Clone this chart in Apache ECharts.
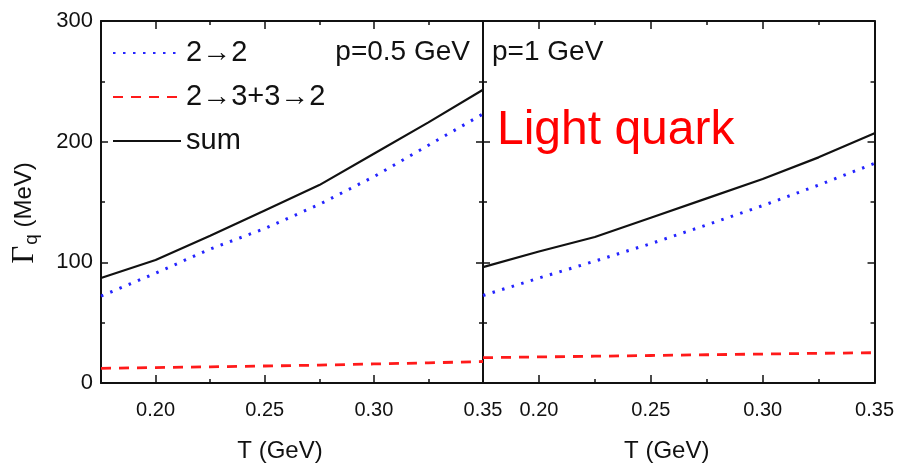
<!DOCTYPE html>
<html>
<head>
<meta charset="utf-8">
<script src="https://cdn.jsdelivr.net/npm/echarts@6/dist/echarts.min.js"></script>
<style>
html,body{margin:0;padding:0;background:#fff;}
#chart{width:897px;height:475px;}
</style>
</head>
<body>
<div id="chart"></div>
<script>
// Temperatures (GeV)
const temps = [0.175, 0.20, 0.225, 0.25, 0.275, 0.30, 0.325, 0.35];
// p = 0.5 GeV panel (MeV)
const left22 = [72, 91, 111, 128, 148, 171, 197, 223];
const left23 = [12.2, 12.8, 13.4, 14.1, 14.8, 15.8, 16.7, 17.8];
const leftSum = [87, 102, 122, 143, 164, 190, 216, 243];
// p = 1 GeV panel (MeV)
const right22 = [72.5, 87, 101, 115.5, 131, 147, 164, 182];
const right23 = [21, 21.6, 22.2, 22.8, 23.4, 24, 24.6, 25.1];
const rightSum = [96, 109, 121, 137, 153, 169, 187, 207];
// names / texts
const seriesNames = ['2→2', '2→3+3→2', 'sum'];
const yTicks = [0, 100, 200, 300];

function pairs(xs, ys) { return xs.map((x, i) => [x, ys[i]]); }

const FONT = 'Liberation Sans, Arial, sans-serif';
const INK = '#111';
const styles = [
  { color: '#2424ff', width: 3, type: [2.5, 7.5], cap: 'butt' },
  { color: '#ff1a1a', width: 2.8, type: [10, 8], cap: 'butt' },
  { color: '#111111', width: 2.2, type: 'solid', cap: 'butt' }
];

function xAx(grid, pos, labels) {
  return {
    type: 'value', gridIndex: grid, position: pos, min: 0.175, max: 0.35, splitNumber: 4,
    axisLine: { show: true, onZero: false, lineStyle: { color: INK, width: 2 } },
    axisTick: { show: true, inside: true, length: 8, lineStyle: { color: INK, width: 1.5 } },
    minorTick: { show: true, splitNumber: 2, length: 4, lineStyle: { color: INK, width: 1.5 } },
    splitLine: { show: false }, minorSplitLine: { show: false },
    axisLabel: {
      show: labels, showMinLabel: false, margin: 17, fontSize: 20, fontFamily: FONT, color: INK,
      formatter: v => v.toFixed(2)
    },
    name: labels ? 'T (GeV)' : '', nameLocation: 'middle', nameGap: 56,
    nameTextStyle: { fontSize: 24, fontFamily: FONT, color: INK, padding: [0, 24, 0, 0] }
  };
}
function yAx(grid, pos, labels) {
  return {
    type: 'value', gridIndex: grid, position: pos, min: yTicks[0], max: yTicks[yTicks.length - 1],
    interval: yTicks[1] - yTicks[0],
    axisLine: { show: true, onZero: false, lineStyle: { color: INK, width: 2 } },
    axisTick: { show: true, inside: true, length: 7, lineStyle: { color: INK, width: 1.5 } },
    minorTick: { show: true, splitNumber: 2, length: 4, lineStyle: { color: INK, width: 1.5 } },
    splitLine: { show: false }, minorSplitLine: { show: false },
    axisLabel: { show: labels, margin: 8, fontSize: 22, fontFamily: FONT, color: INK },
    name: labels ? '{g|Γ}{q|q}{u| (MeV)}' : '', nameLocation: 'middle', nameGap: 60, nameRotate: 90,
    nameTextStyle: {
      color: INK, padding: [0, 22, 0, 0],
      rich: {
        g: { fontSize: 31, fontFamily: 'Liberation Serif, serif', color: INK },
        q: { fontSize: 19, fontFamily: FONT, color: INK, padding: [14, 0, 0, 1] },
        u: { fontSize: 24, fontFamily: FONT, color: INK }
      }
    }
  };
}

function mkSeries(name, xi, yi, data, st) {
  return {
    name: name, type: 'line', xAxisIndex: xi, yAxisIndex: yi, data: data,
    symbol: 'none', showSymbol: false, smooth: false, z: 3,
    lineStyle: { color: st.color, width: st.width, type: st.type, cap: st.cap },
    itemStyle: { color: st.color }
  };
}

const chart = echarts.init(document.getElementById('chart'), null, { renderer: 'canvas' });
chart.setOption({
  animation: false,
  backgroundColor: '#fff',
  grid: [
    { left: 101, top: 21, width: 382, height: 362 },
    { left: 483, top: 21, width: 392, height: 362 }
  ],
  xAxis: [xAx(0, 'bottom', true), xAx(1, 'bottom', true), xAx(0, 'top', false), xAx(1, 'top', false)],
  yAxis: [yAx(0, 'left', true), yAx(1, 'left', false), yAx(0, 'right', false), yAx(1, 'right', false)],
  legend: {
    data: seriesNames, orient: 'vertical', left: 107, top: 33,
    itemWidth: 68, itemHeight: 14, itemGap: 14,
    itemStyle: { opacity: 0 },
    textStyle: { fontSize: 29, fontFamily: FONT, color: INK, lineHeight: 30 },
    selectedMode: false
  },
  graphic: [
    { type: 'text', x: 470, y: 52, style: { text: 'p=0.5 GeV', align: 'right', verticalAlign: 'middle', fontSize: 28, fontFamily: FONT, fill: INK } },
    { type: 'text', x: 492, y: 52, style: { text: 'p=1 GeV', align: 'left', verticalAlign: 'middle', fontSize: 28, fontFamily: FONT, fill: INK } },
    { type: 'text', x: 497, y: 131, style: { text: 'Light quark', align: 'left', verticalAlign: 'middle', fontSize: 48, fontFamily: FONT, fill: '#ff0000' } }
  ],
  series: [
    mkSeries(seriesNames[0], 0, 0, pairs(temps, left22), styles[0]),
    mkSeries(seriesNames[1], 0, 0, pairs(temps, left23), styles[1]),
    mkSeries(seriesNames[2], 0, 0, pairs(temps, leftSum), styles[2]),
    mkSeries(seriesNames[0], 1, 1, pairs(temps, right22), styles[0]),
    mkSeries(seriesNames[1], 1, 1, pairs(temps, right23), styles[1]),
    mkSeries(seriesNames[2], 1, 1, pairs(temps, rightSum), styles[2])
  ]
});
</script>
</body>
</html>
